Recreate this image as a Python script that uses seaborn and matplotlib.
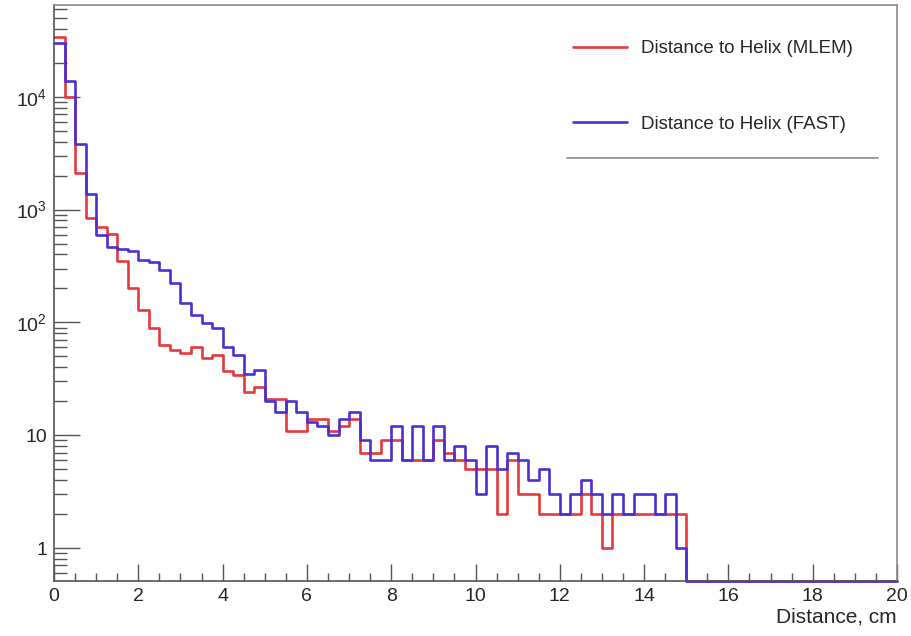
import numpy as np
import pandas as pd
import matplotlib
matplotlib.use("Agg")
import matplotlib.pyplot as plt
import seaborn as sns
from matplotlib.ticker import MultipleLocator, LogLocator, FuncFormatter, NullFormatter
from matplotlib.lines import Line2D

# ---------------- data ----------------
bin_width = 0.25
x_range = (0.0, 20.0)
series_names = ["Distance to Helix (MLEM)", "Distance to Helix (FAST)"]
series_colors = ["#e5383b", "#4b2fd3"]

# counts per 0.25 cm bin, 0 .. 20 cm (80 bins)
mlem_counts = [34000, 10000, 2100, 850, 700, 610, 350, 200, 130, 89,
               63, 57, 53, 61, 48, 51, 37, 34, 24, 27,
               21, 21, 11, 11, 14, 14, 11, 12, 14, 7,
               7, 9, 9, 6, 6, 6, 9, 7, 6, 5,
               5, 5, 2, 6, 3, 3, 2, 2, 2, 2,
               3, 2, 1, 2, 2, 2, 2, 2, 2, 2,
               0, 0, 0, 0, 0, 0, 0, 0, 0, 0,
               0, 0, 0, 0, 0, 0, 0, 0, 0, 0]
fast_counts = [30000, 13700, 3800, 1380, 600, 470, 450, 425, 358, 346,
               292, 223, 148, 117, 98, 89, 61, 51, 35, 38,
               20, 16, 20, 16, 13, 12, 10, 14, 16, 9,
               6, 6, 12, 6, 12, 6, 12, 6, 8, 6,
               3, 8, 5, 7, 6, 4, 5, 3, 2, 3,
               4, 3, 2, 3, 2, 3, 3, 2, 3, 1,
               0, 0, 0, 0, 0, 0, 0, 0, 0, 0,
               0, 0, 0, 0, 0, 0, 0, 0, 0, 0]

x_ticks_major = [0, 2, 4, 6, 8, 10, 12, 14, 16, 18, 20]
x_label = "Distance, cm"
y_limits = (0.51, 65000)

# ---------------- style ----------------
sns.set_style("ticks")
plt.rcParams["font.family"] = ["Liberation Sans", "DejaVu Sans"]
plt.rcParams["mathtext.fontset"] = "custom"
plt.rcParams["mathtext.rm"] = "Liberation Sans"
plt.rcParams["mathtext.it"] = "Liberation Sans:italic"
plt.rcParams["mathtext.bf"] = "Liberation Sans:bold"
text_color = "#262626"

fig = plt.figure(figsize=(9.11, 6.36), dpi=100)
ax = fig.add_axes([54 / 911, 1 - 581 / 636, 843 / 911, 576 / 636])

edges = np.arange(x_range[0], x_range[1] + bin_width / 2, bin_width)
frames = []
for name, counts in zip(series_names, [mlem_counts, fast_counts]):
    c = np.asarray(counts, dtype=float)
    # ROOT draws empty bins on a log axis at the bottom of the frame
    shown = np.where(c > 0, c, y_limits[0])
    shown = np.append(shown, shown[-1])
    frames.append(pd.DataFrame({"edge": edges, "count": shown, "series": name}))
df = pd.concat(frames, ignore_index=True)

sns.lineplot(data=df, x="edge", y="count", hue="series", hue_order=series_names,
             palette=dict(zip(series_names, series_colors)), estimator=None,
             sort=False, drawstyle="steps-post", linewidth=1.9, legend=False,
             ax=ax, clip_on=False)

ax.set_yscale("log")
ax.set_xlim(*x_range)
ax.set_ylim(*y_limits)

# ticks
ax.xaxis.set_major_locator(MultipleLocator(2))
ax.xaxis.set_minor_locator(MultipleLocator(0.5))
ax.yaxis.set_major_locator(LogLocator(base=10, numticks=12))
ax.yaxis.set_minor_locator(LogLocator(base=10, subs=np.arange(2, 10), numticks=12))
ax.yaxis.set_minor_formatter(NullFormatter())


def ylab(v, pos):
    if v <= 1.0001:
        return "1"
    if abs(v - 10) < 1e-6:
        return "10"
    return r"$\mathregular{10^{%d}}$" % int(round(np.log10(v)))


ax.yaxis.set_major_formatter(FuncFormatter(ylab))
ax.tick_params(axis="x", which="major", direction="in", length=12.5, width=1.0,
               color="#555555", labelsize=14, labelcolor=text_color, pad=5,
               top=False)
ax.tick_params(axis="x", which="minor", direction="in", length=6, width=1.0,
               color="#555555", top=False)
ax.tick_params(axis="y", which="major", direction="in", length=19, width=1.0,
               color="#555555", labelsize=14, labelcolor=text_color, pad=5,
               right=False)
ax.tick_params(axis="y", which="minor", direction="in", length=9.5, width=1.0,
               color="#555555", right=False)

for side in ["left", "bottom"]:
    ax.spines[side].set_color("#555555")
    ax.spines[side].set_linewidth(1.2)
for side in ["top", "right"]:
    ax.spines[side].set_color("#8a8a8a")
    ax.spines[side].set_linewidth(1.2)

ax.set_xlabel(x_label, loc="right", fontsize=15, color=text_color, labelpad=2)
ax.set_ylabel("")

# legend
handles = [Line2D([], [], color=c, linewidth=1.9) for c in series_colors]
ax.legend(handles, series_names, loc="upper left",
          bbox_to_anchor=((573 - 54) / 843, (581 - 40) / 576),
          frameon=False, fontsize=13.5, handlelength=2.9, handletextpad=0.7,
          labelspacing=3.12, borderaxespad=0, borderpad=0, labelcolor=text_color)
ax.add_line(Line2D([(567 - 54) / 843, (878 - 54) / 843],
                   [(581 - 158) / 576, (581 - 158) / 576],
                   transform=ax.transAxes, color="#8a8a8a", linewidth=1.2))

fig.savefig("out.png", dpi=100)
